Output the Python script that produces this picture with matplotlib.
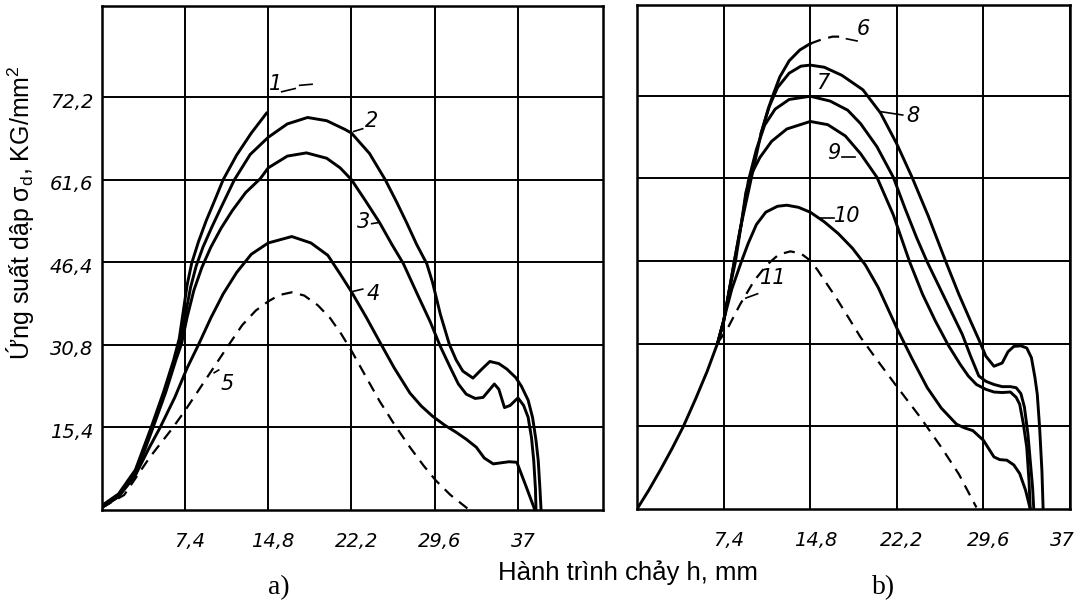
import matplotlib.pyplot as plt
from matplotlib.transforms import ScaledTranslation

# ---------------- panel a) ----------------
# x = h, mm ; y in grid units (one grid row = 15.4)
a1_x = [0, 1.5, 3, 4.4, 5.5, 6.4, 6.9, 7.25, 7.6, 8.0, 8.6, 9.3, 10.0, 10.8, 12.0, 13.3, 14.65]
a1_y = [0.8, 3, 7.5, 15.4, 22, 28, 32, 37, 42, 46, 50, 54, 57.5, 61.6, 66.2, 70.3, 74.0]

a2_x = [0, 1.5, 3, 4.5, 5.6, 6.5, 7.0, 7.45, 7.9, 8.4, 9.0, 9.8, 10.7, 11.8, 13.2, 14.8, 16.5, 18.3,
        20.0, 21.6, 22.2, 23.8, 25.2, 26.2, 27.1, 28.0, 28.9, 29.4, 30.1, 30.9, 31.5, 32.1,
        33.0, 33.8, 34.5, 35.3, 36.0, 36.8, 37.3, 37.9, 38.3, 38.6, 38.8, 38.95, 39.05]
a2_y = [0.6, 2.8, 7, 15.4, 22, 28, 31.5, 36.5, 41.5, 45.5, 49.0, 52.8, 56.8, 61.6, 66.3, 69.5, 72.0, 73.2,
        72.6, 71.0, 70.3, 66.5, 61.6, 57.5, 53.6, 49.5, 45.9, 42.5, 36.5, 30.9, 28.0, 25.9,
        24.6, 26.3, 27.7, 27.3, 26.3, 24.7, 23.1, 20.5, 17.2, 13.0, 9.2, 4.0, 0]

a3_x = [0, 1.5, 3, 4.5, 5.7, 6.6, 7.1, 7.6, 8.2, 8.9, 9.7, 10.6, 11.6, 12.8, 14.1, 14.8, 16.5, 18.2,
        20.0, 21.2, 22.2, 23.5, 24.7, 25.8, 26.8, 28.0, 29.2, 30.1, 31.0, 31.7, 32.4, 33.2,
        33.9, 34.5, 34.9, 35.3, 35.8, 36.3, 37.0, 37.5, 37.9, 38.2, 38.4, 38.55, 38.6]
a3_y = [0.5, 2.5, 6.5, 15.0, 22, 28, 31, 36, 41, 45.2, 49.0, 52.5, 55.8, 59.2, 61.8, 63.8, 66.0, 66.6,
        65.6, 63.8, 61.6, 57.5, 53.6, 49.5, 46.0, 40.5, 35.1, 30.5, 26.5, 23.5, 21.6, 20.8,
        21.0, 22.5, 23.5, 22.5, 19.1, 19.5, 20.9, 19.5, 17.3, 13.5, 9.2, 4.0, 0]

a4_x = [0, 1.5, 3, 4.2, 5.2, 6.5, 7.6, 8.6, 9.7, 10.8, 12.0, 13.3, 14.8, 16.9, 18.6, 20.1, 21.2,
        22.2, 23.5, 24.7, 26.0, 27.4, 28.4, 29.4, 30.5, 31.5, 32.4, 33.3, 34.0, 34.8, 35.5,
        36.2, 36.9, 37.7, 38.5]
a4_y = [0.4, 2.5, 6.5, 11.5, 15.4, 21, 26.5, 30.8, 35.8, 40.3, 44.3, 47.7, 49.8, 51.0, 49.8, 47.5, 44.0,
        40.7, 36.0, 31.4, 26.5, 21.8, 19.4, 17.5, 15.8, 14.5, 13.2, 11.7, 9.7, 8.6, 8.8,
        9.0, 8.9, 4.5, 0]

a5_x = [0, 2.0, 4.3, 6.2, 7.4, 9.3, 11.2, 12.5, 13.7, 14.8, 15.8, 16.9, 18.0, 19.2, 20.3, 21.3,
        22.2, 23.5, 24.7, 26.0, 27.4, 28.6, 29.7, 31.0, 32.5]
a5_y = [0.4, 2.8, 9.9, 15.0, 18.5, 24.5, 30.5, 34.5, 37.2, 38.9, 40.1, 40.6, 40.0, 38.2, 35.8, 32.8,
        29.7, 24.8, 20.3, 16.0, 11.7, 8.3, 5.5, 2.8, 0.3]

# ---------------- panel b) ----------------
b6_x = [0, 1, 2, 3, 3.96, 5, 6, 6.9, 7.4, 7.9, 8.3, 8.8, 9.4, 10.0, 10.6, 11.2, 11.6, 12.2, 13.0, 13.9, 14.8]
b6_y = [0, 3.5, 7.3, 11.3, 15.4, 20.5, 25.7, 31, 35, 41, 46, 52, 58, 64, 70, 74.5, 77, 80.5, 83.5, 85.5, 86.7]
b6d_x = [14.8, 15.8, 16.7, 17.6]
b6d_y = [86.7, 87.5, 88.0, 88.0]

b7_x = [6.9, 7.4, 7.9, 8.3, 8.9, 9.5, 10.2, 10.9, 11.8, 13.0, 14.8, 16.5, 18.0, 19.1, 20.5, 21.9,
        22.9, 23.9, 24.8, 25.8, 26.8, 27.8, 28.5, 29.2, 29.8, 30.5, 31.2, 31.9, 32.4, 32.8, 33.1,
        33.4, 33.6, 33.8, 33.9]
b7_y = [31, 35, 41, 46, 53, 61, 67, 71.5, 74.5, 76.3, 76.9, 76.0, 74.3, 71.8, 67.5, 61.8,
        56, 50.5, 46.0, 41.5, 37, 32.5, 28.5, 24.8, 23.8, 23.2, 22.8, 22.8, 22.6, 21.5, 19,
        14, 9, 4, 0]

b8_x = [10.6, 11.3, 12.0, 13.0, 14.0, 14.8, 16.0, 17.5, 19.3, 20.8, 22.2, 23.5, 24.9, 26.4, 27.5,
        28.5, 29.2, 29.8, 30.5, 31.2, 31.7, 32.2, 32.8, 33.3, 33.7, 34.0, 34.2, 34.4, 34.6, 34.7]
b8_y = [70, 75, 78.5, 81.2, 82.5, 82.7, 82.3, 80.8, 78.1, 73.8, 68.0, 61.8, 54.5, 46.0, 40,
        35, 31.6, 28.5, 26.6, 27.2, 29.3, 30.3, 30.4, 30.0, 28.2, 24.5, 21.4, 15.2, 7, 0]

b9_x = [6.9, 7.4, 7.9, 8.4, 8.9, 9.3, 9.8, 10.5, 11.5, 12.8, 14.8, 16.3, 17.8, 19.1, 20.5, 21.9,
        23.3, 24.4, 25.5, 26.6, 27.6, 28.3, 29.0, 29.8, 30.5, 31.2, 31.9, 32.4, 32.7, 33.0,
        33.3, 33.5, 33.6]
b9_y = [31, 35, 41, 46, 53, 59, 62.5, 65.5, 68.5, 70.8, 72.2, 71.6, 69.5, 66.2, 61.8, 54.8,
        46.0, 40, 35, 30.5, 27.0, 24.8, 23.2, 22.3, 21.8, 21.7, 21.8, 20.8, 19.5, 16,
        11.5, 5, 0]

b10_x = [6.9, 7.5, 8.1, 8.9, 9.5, 10.2, 11.0, 12.0, 12.8, 13.8, 14.8, 16.0, 17.2, 18.4, 19.5, 20.6,
         22.2, 23.5, 24.8, 26.0, 27.3, 28.0, 28.7, 29.6, 30.5, 31.0, 31.6, 32.2, 32.7, 33.2, 33.6]
b10_y = [31, 36, 41, 46.0, 49.5, 53.0, 55.3, 56.4, 56.6, 56.2, 55.3, 53.5, 51.3, 48.6, 45.5, 41.3,
         33.7, 28, 22.6, 18.8, 15.8, 15.1, 14.6, 12.8, 9.7, 9.2, 9.1, 8.2, 6.6, 3.5, 0]

b11_x = [6.9, 7.7, 8.8, 10.0, 11.1, 12.1, 13.1, 14.0, 14.8, 15.4, 16.2, 17.0, 18.0, 19.1, 20.5,
         22.0, 24.2, 26.0, 27.5, 29.0]
b11_y = [31, 33.5, 38.1, 42.5, 45.5, 47.4, 48.0, 47.6, 46.3, 44.6, 42.0, 39.4, 35.9, 32.0, 27.8,
         23.4, 17.1, 11.5, 6.5, 0.3]

x_ticks = [7.4, 14.8, 22.2, 29.6, 37]
x_labels = ['7,4', '14,8', '22,2', '29,6', '37']
y_ticks = [15.4, 30.8, 46.2, 61.6, 77.0]
y_labels = ['15,4', '30,8', '46,4', '61,6', '72,2']

fig = plt.figure(figsize=(10.86, 6.07), dpi=100)
ax_a = fig.add_axes([0.0936, 0.1598, 0.4616, 0.8295])
ax_b = fig.add_axes([0.5866, 0.1614, 0.3987, 0.8304])

lw = 2.1
dash = (0, (5, 3.5))
tick_font = dict(fontsize=14, fontstyle='italic')
lab_font = dict(fontsize=15, fontstyle='italic')

for ax, xmax in ((ax_a, 44.55), (ax_b, 37.0)):
    ax.set_xlim(0, xmax)
    ax.set_ylim(0, 93.9)
    ax.set_xticks(x_ticks)
    ax.set_xticklabels(x_labels, **tick_font)
    ax.set_yticks(y_ticks)
    ax.grid(True, color='black', linewidth=1.4)
    ax.tick_params(length=0, pad=16)
    for s in ax.spines.values():
        s.set_linewidth(1.8)
    # hand-lettered labels sit a little right of the grid lines
    for lab in ax.get_xticklabels():
        lab.set_transform(lab.get_transform() + ScaledTranslation(0.05, 0, fig.dpi_scale_trans))

ax_b.get_xticklabels()[-1].set_transform(
    ax_b.get_xaxis_transform() + ScaledTranslation(-0.08, -0.22, fig.dpi_scale_trans))

ax_a.set_yticklabels(y_labels, **tick_font)
ax_a.tick_params(axis='y', pad=6)
for lab in ax_a.get_yticklabels():
    lab.set_transform(lab.get_transform() + ScaledTranslation(0, -0.03, fig.dpi_scale_trans))
ax_b.set_yticklabels([])

# panel a curves
ax_a.plot(a1_x, a1_y, color='black', lw=lw)
ax_a.plot(a2_x, a2_y, color='black', lw=lw)
ax_a.plot(a3_x, a3_y, color='black', lw=lw)
ax_a.plot(a4_x, a4_y, color='black', lw=lw)
ax_a.plot(a5_x, a5_y, color='black', lw=1.6, linestyle=dash)

# labels + leaders, panel a
ax_a.text(15.5, 79.5, '1', ha='center', va='center', **lab_font)
ax_a.plot([16.0, 17.2], [78.0, 78.6], color='black', lw=1.2)
ax_a.plot([17.6, 18.7], [79.2, 79.4], color='black', lw=1.2)
ax_a.text(24.0, 72.5, '2', ha='center', va='center', **lab_font)
ax_a.plot([22.4, 23.2], [70.6, 71.1], color='black', lw=1.2)
ax_a.text(23.3, 53.8, '3', ha='center', va='center', **lab_font)
ax_a.plot([24.0, 24.6], [53.4, 53.6], color='black', lw=1.2)
ax_a.text(24.1, 40.3, '4', ha='center', va='center', **lab_font)
ax_a.plot([22.4, 23.2], [40.8, 41.2], color='black', lw=1.2)
ax_a.text(11.2, 23.5, '5', ha='center', va='center', **lab_font)
ax_a.plot([10.0, 10.4], [25.6, 26.1], color='black', lw=1.2)

# panel b curves
ax_b.plot(b6_x, b6_y, color='black', lw=lw)
ax_b.plot(b6d_x, b6d_y, color='black', lw=1.6, linestyle=dash)
ax_b.plot(b7_x, b7_y, color='black', lw=lw)
ax_b.plot(b8_x, b8_y, color='black', lw=lw)
ax_b.plot(b9_x, b9_y, color='black', lw=lw)
ax_b.plot(b10_x, b10_y, color='black', lw=lw)
ax_b.plot(b11_x, b11_y, color='black', lw=1.6, linestyle=dash)

ax_b.text(19.3, 89.5, '6', ha='center', va='center', **lab_font)
ax_b.plot([17.9, 18.8], [87.6, 87.2], color='black', lw=1.2)
ax_b.text(15.9, 79.3, '7', ha='center', va='center', **lab_font)
ax_b.text(23.6, 73.2, '8', ha='center', va='center', **lab_font)
ax_b.plot([20.9, 22.7], [74.0, 73.4], color='black', lw=1.2)
ax_b.text(16.8, 66.4, '9', ha='center', va='center', **lab_font)
ax_b.plot([17.5, 18.6], [65.6, 65.6], color='black', lw=1.2)
ax_b.text(18.0, 54.6, '10', ha='center', va='center', **lab_font)
ax_b.plot([15.5, 16.8], [54.2, 54.2], color='black', lw=1.2)
ax_b.text(11.6, 43.0, '11', ha='center', va='center', **lab_font)
ax_b.plot([9.3, 10.3], [39.3, 40.1], color='black', lw=1.2)

fig.text(0.0185, 1 - 213 / 607, 'Ứng suất dập σ$_\\mathregular{d}$, KG/mm$^\\mathregular{2}$',
         rotation=90, ha='center', va='center', fontsize=18, family='Liberation Sans')
fig.text(628 / 1086, 1 - 573 / 607, 'Hành trình chảy h, mm', ha='center', va='center',
         fontsize=18.5, family='Liberation Sans')
fig.text(279 / 1086, 1 - 588 / 607, 'a)', ha='center', va='center', fontsize=20,
         family='Liberation Serif')
fig.text(884 / 1086, 1 - 588 / 607, 'b)', ha='center', va='center', fontsize=20,
         family='Liberation Serif')

fig.savefig('out.png', dpi=100)
